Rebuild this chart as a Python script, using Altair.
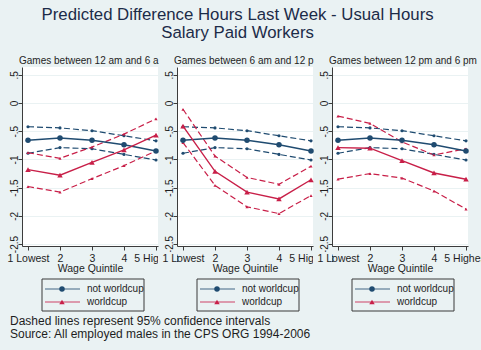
import altair as alt
import pandas as pd

# ---------------- data ----------------
quintiles = [1, 2, 3, 4, 5]
quintile_labels = ["1 Lowest", "2", "3", "4", "5 Highest"]
panel_titles = [
    "Games between 12 am and 6 am",
    "Games between 6 am and 12 pm",
    "Games between 12 pm and 6 pm",
]
series_names = ["not worldcup", "worldcup"]

# not worldcup (same baseline in every panel)
nw_est = [-0.66, -0.62, -0.66, -0.74, -0.85]
nw_hi = [-0.42, -0.44, -0.49, -0.58, -0.67]
nw_lo = [-0.89, -0.79, -0.81, -0.91, -1.01]

# worldcup, panel 1 (12 am - 6 am)
wc1_est = [-1.18, -1.28, -1.05, -0.83, -0.57]
wc1_hi = [-0.88, -0.98, -0.78, -0.55, -0.28]
wc1_lo = [-1.48, -1.58, -1.34, -1.11, -0.85]

# worldcup, panel 2 (6 am - 12 pm)
wc2_est = [-0.41, -1.21, -1.58, -1.70, -1.36]
wc2_hi = [-0.11, -0.94, -1.32, -1.44, -1.12]
wc2_lo = [-0.70, -1.46, -1.84, -1.96, -1.64]

# worldcup, panel 3 (12 pm - 6 pm)
wc3_est = [-0.79, -0.80, -1.02, -1.24, -1.35]
wc3_hi = [-0.23, -0.36, -0.69, -0.92, -0.81]
wc3_lo = [-1.35, -1.25, -1.33, -1.56, -1.88]

y_ticks = [0.5, 0, -0.5, -1, -1.5, -2, -2.5]
y_tick_labels = [".5", "0", "-.5", "-1", "-1.5", "-2", "-2.5"]

title_lines = ["Predicted Difference Hours Last Week - Usual Hours", "Salary Paid Workers"]
footnote_lines = [
    "Dashed lines represent 95% confidence intervals",
    "Source: All employed males in the CPS ORG 1994-2006",
]

# ---------------- styles ----------------
BG = "#eaf2f3"
NAVY = "#1f4b70"
RED = "#c81f48"
TXT = "#1e1e1e"
TITLE_C = "#1c2b48"
FONT = "Liberation Sans"

wc_sets = [(wc1_est, wc1_hi, wc1_lo), (wc2_est, wc2_hi, wc2_lo), (wc3_est, wc3_hi, wc3_lo)]
rows = []
for p, ptitle in enumerate(panel_titles):
    for s, bands in (("not worldcup", (nw_est, nw_hi, nw_lo)), ("worldcup", wc_sets[p])):
        for band, vals in zip(("est", "hi", "lo"), bands):
            for q, v in zip(quintiles, vals):
                rows.append({"panel": ptitle, "series": s, "band": band, "q": q, "v": v})
df = pd.DataFrame(rows)

x_expr = " : ".join(
    f"datum.value == {q} ? '{lab}'" for q, lab in zip(quintiles, quintile_labels)
) + " : ''"
y_expr = " : ".join(
    f"datum.value == {t} ? '{lab}'" for t, lab in zip(y_ticks, y_tick_labels)
) + " : ''"

W, H = 136, 179
color = alt.Color("series:N", scale=alt.Scale(domain=series_names, range=[NAVY, RED]), legend=None)
shape = alt.Shape("series:N", scale=alt.Scale(domain=series_names, range=["circle", "triangle-up"]), legend=None)


def panel(i):
    base = alt.Chart(df[df["panel"] == panel_titles[i]])
    x = alt.X(
        "q:Q",
        scale=alt.Scale(domain=[0.8125, 5.0625], nice=False, zero=False),
        axis=alt.Axis(values=quintiles, labelExpr=x_expr, title="Wage Quintile", grid=False,
                      zindex=1, labelPadding=3, titlePadding=0, labelFlush=False,
                      labelFontSize=10.5),
    )
    y = alt.Y(
        "v:Q",
        scale=alt.Scale(domain=[-2.535, 0.64], nice=False, zero=False),
        axis=alt.Axis(values=y_ticks, labelExpr=y_expr, title=None, grid=True,
                      labelAngle=270, labelAlign="center", labelBaseline="alphabetic",
                      labelPadding=1, labelFlush=False),
    )
    layers = []
    if i > 0:
        # background-coloured strip: clips the previous panel's overflowing tick label
        layers.append(
            alt.Chart(alt.Data(values=[{"m": 1}])).mark_rect(color=BG).encode(
                x=alt.value(-19), x2=alt.value(0), y=alt.value(H + 6), y2=alt.value(H + 22)
            )
        )
    layers += [
        base.transform_filter("datum.band != 'est'").mark_line(strokeWidth=1.2, strokeDash=[6, 3]).encode(
            x=x, y=y, color=color, detail="band:N"),
        base.transform_filter("datum.band == 'est'").mark_line(strokeWidth=1.4).encode(
            x=x, y=y, color=color),
        base.transform_filter("datum.band != 'est'").mark_point(filled=True, size=10, opacity=1).encode(
            x=x, y=y, color=color, shape=shape),
        base.transform_filter("datum.band == 'est'").mark_point(filled=True, size=30, opacity=1).encode(
            x=x, y=y, color=color, shape=shape),
        alt.Chart(alt.Data(values=[{"t": panel_titles[i]}])).mark_text(
            align="left", baseline="middle", fontSize=10, font=FONT, color=TXT,
            limit=146 if i < 2 else 200, ellipsis="\u200b",
        ).encode(x=alt.value(-3), y=alt.value(-6), text="t:N"),
    ]
    return alt.layer(*layers).properties(
        width=W, height=H, view=alt.ViewBackground(fill="white", stroke=None)
    )


leg_df = pd.DataFrame({"series": series_names, "r": [0, 1]})
ly = alt.Y("r:Q", scale=alt.Scale(domain=[0, 1], range=[10, 23]), axis=None)


def legend(i):
    layers = [
        alt.Chart(alt.Data(values=[{"b": 1}])).mark_rect(fillOpacity=0, stroke="#3a3a3a", strokeWidth=1).encode(
            x=alt.value(20), x2=alt.value(122), y=alt.value(0), y2=alt.value(32)),
        alt.Chart(leg_df).mark_rule(strokeWidth=1.5, opacity=0.55).encode(
            x=alt.value(23), x2=alt.value(58), y=ly, color=color),
        alt.Chart(leg_df).mark_point(filled=True, size=30, opacity=1).encode(
            x=alt.value(40), y=ly, color=color, shape=shape),
        alt.Chart(leg_df).mark_text(align="left", baseline="middle", fontSize=10, font=FONT, color=TXT).encode(
            x=alt.value(65), y=ly, text="series:N"),
    ]
    if i == 0:
        layers.append(
            alt.Chart(alt.Data(values=[{"t": "\n".join(footnote_lines)}])).mark_text(
                align="left", baseline="middle", lineBreak="\n", lineHeight=12.5,
                fontSize=12, font=FONT, color=TXT,
            ).encode(x=alt.value(-12), y=alt.value(42), text="t:N")
        )
    return alt.layer(*layers).properties(width=W, height=32)


chart = alt.concat(
    panel(0), panel(1), panel(2), legend(0), legend(1), legend(2),
    columns=3, spacing={"row": 33, "column": 19}, bounds="flush",
).properties(
    title=alt.TitleParams(
        text=title_lines, fontSize=16.8, font=FONT, fontWeight="normal", color=TITLE_C,
        anchor="middle", offset=14, lineHeight=18, dx=-10,
    ),
    autosize=alt.AutoSizeParams(type="none"),
    padding={"left": 22, "top": 67, "right": 459, "bottom": 283},
    background=BG,
).configure_view(stroke=None).configure_axis(
    domainColor="#3c3c3c", tickColor="#3c3c3c", labelColor=TXT, titleColor=TXT,
    labelFont=FONT, titleFont=FONT, labelFontSize=10, titleFontSize=10.5,
    titleFontWeight="normal", gridColor=BG, gridWidth=1, tickSize=4, domainWidth=1,
)

chart.save("out.html", embed_options={"renderer": "svg", "actions": False})
